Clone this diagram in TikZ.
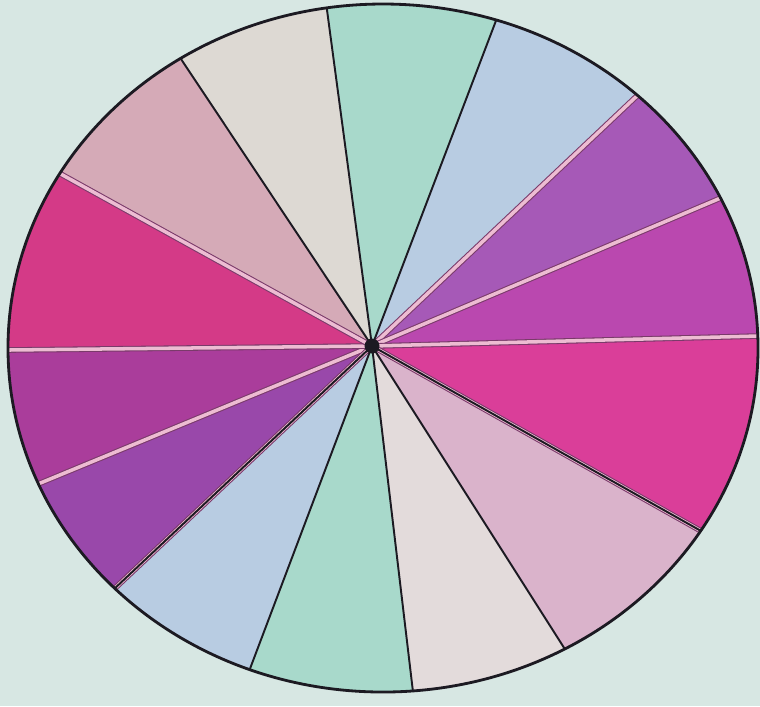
\documentclass[tikz,border=0pt]{standalone}
\usepackage{tikz}
\usetikzlibrary{calc}
\definecolor{paper}{HTML}{D7E7E3}
\definecolor{mintgreen}{HTML}{A8D9CB}
\definecolor{paleblue}{HTML}{B8CCE2}
\definecolor{violetR}{HTML}{A659B7}
\definecolor{orchidR}{HTML}{BA48AF}
\definecolor{roseR}{HTML}{DA3E99}
\definecolor{blushR}{HTML}{DAB3CB}
\definecolor{creamR}{HTML}{E3DBDB}
\definecolor{violetL}{HTML}{9948AA}
\definecolor{orchidL}{HTML}{AA3D9B}
\definecolor{roseL}{HTML}{D43A87}
\definecolor{blushL}{HTML}{D5AAB7}
\definecolor{creamL}{HTML}{DDD9D3}
\definecolor{ruleink}{HTML}{1C1A22}
\definecolor{rulepink}{HTML}{EDBCD2}
\definecolor{ruleedge}{HTML}{7A3A6A}
\tikzset{
  darkrule/.style={draw=ruleink,line width=0.55pt},
  lightrule/.style={draw=rulepink,line width=1.0pt,
    preaction={draw=ruleedge,line width=1.6pt}},
  rimline/.style={draw=ruleink,line width=0.8pt}
}
\begin{document}
\begin{tikzpicture}
  \useasboundingbox (0,0) rectangle (7.6,-7.06);
  \fill[paper] (0,0) rectangle (7.6,-7.06);
  % hub and rim points
  \coordinate (hub) at (3.72,-3.46);
  \coordinate (r1) at (3.27,-0.10);
  \coordinate (r2) at (4.97,-0.18);
  \coordinate (r3) at (6.40,-0.93);
  \coordinate (r4) at (7.23,-1.97);
  \coordinate (r5) at (7.58,-3.36);
  \coordinate (r6) at (6.94,-5.27);
  \coordinate (r7) at (5.61,-6.43);
  \coordinate (r8) at (4.13,-6.92);
  \coordinate (r9) at (2.48,-6.74);
  \coordinate (r10) at (1.13,-5.90);
  \coordinate (r11) at (0.38,-4.84);
  \coordinate (r12) at (0.08,-3.50);
  \coordinate (r13) at (0.68,-1.78);
  \coordinate (r14) at (1.83,-0.62);
  \begin{scope}
    \clip (3.83,-3.48) ellipse [x radius=3.75,y radius=3.44];
    \foreach \i/\j/\col in {1/2/mintgreen,2/3/paleblue,3/4/violetR,4/5/orchidR,
        5/6/roseR,6/7/blushR,7/8/creamR,8/9/mintgreen,9/10/paleblue,
        10/11/violetL,11/12/orchidL,12/13/roseL,13/14/blushL,14/1/creamL}
      \fill[\col] (hub) -- ($(hub)!1.8!(r\i)$) -- ($(hub)!1.8!(r\j)$) -- cycle;
    % separators
    \foreach \i in {1,2,7,8,9,14}
      \draw[darkrule] (hub) -- ($(hub)!1.1!(r\i)$);
    \foreach \i in {3,4,5,11,12,13}
      \draw[lightrule] (hub) -- ($(hub)!1.1!(r\i)$);
    \draw[lightrule] (hub) -- ($(hub)!1.1!(r6)$);
    \draw[darkrule,shift={(-0.012,-0.022)}] (hub) -- ($(hub)!1.1!(r6)$);
    \draw[lightrule] (hub) -- ($(hub)!1.1!(r10)$);
    \draw[darkrule,shift={(0.02,-0.02)}] (hub) -- ($(hub)!1.1!(r10)$);
  \end{scope}
  \draw[rimline] (3.83,-3.48) ellipse [x radius=3.75,y radius=3.44];
  \fill[ruleink] (hub) circle (0.075);
\end{tikzpicture}
\end{document}
